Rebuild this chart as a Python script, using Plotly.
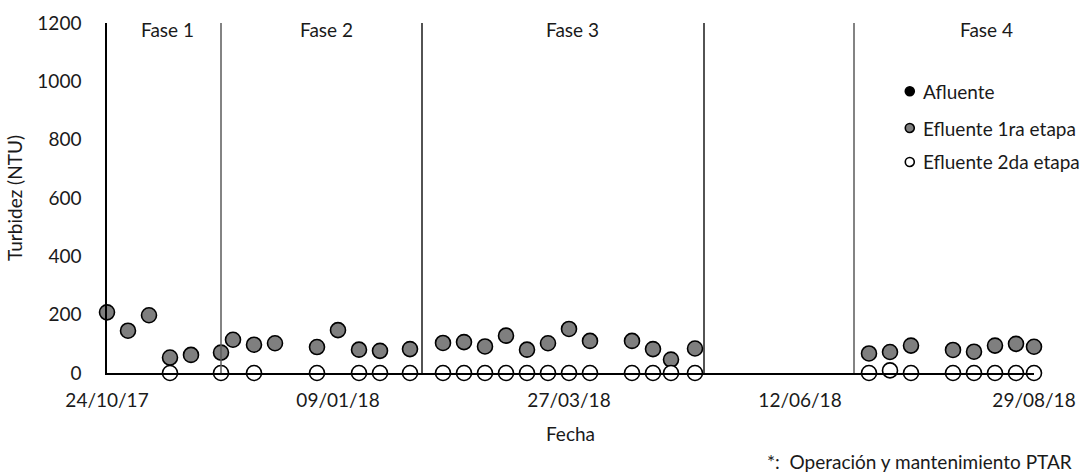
import plotly.graph_objects as go

# Sampling dates (dd/mm/yy campaign, Oct 2017 - Aug 2018)
fechas = [
    "2017-10-24", "2017-10-31", "2017-11-07", "2017-11-14", "2017-11-21",
    "2017-12-01", "2017-12-05", "2017-12-12", "2017-12-19", "2018-01-02",
    "2018-01-09", "2018-01-16", "2018-01-23", "2018-02-02", "2018-02-13",
    "2018-02-20", "2018-02-27", "2018-03-06", "2018-03-13", "2018-03-20",
    "2018-03-27", "2018-04-03", "2018-04-17", "2018-04-24", "2018-04-30",
    "2018-05-08", "2018-07-05", "2018-07-12", "2018-07-19", "2018-08-02",
    "2018-08-09", "2018-08-16", "2018-08-23", "2018-08-29",
]

# Turbidity (NTU)
afluente = []
efluente_1ra = [
    208, 145, 198, 53, 62,
    70, 114, 97, 102, 89,
    147, 80, 76, 82, 103,
    106, 91, 128, 80, 102,
    151, 110, 110, 82, 46,
    84, 67, 72, 94, 79,
    73, 94, 100, 90,
]
efluente_2da = [
    None, None, None, 0, None,
    0, None, 0, None, 0,
    None, 0, 0, 0, 0,
    0, 0, 0, 0, 0,
    0, 0, 0, 0, 0,
    0, 0, 9, 0, 0,
    0, 0, 0, 0,
]

# Phase boundaries and labels
limites_fase = ["2017-12-01", "2018-02-06", "2018-05-11", "2018-06-30"]
color_limite = ["#5a5a5a", "#1a1a1a", "#1a1a1a", "#5a5a5a"]
fases = ["Fase 1", "Fase 2", "Fase 3", "Fase 4"]
centro_fase = ["2017-11-13", "2018-01-05", "2018-03-28", "2018-08-13"]

tick_fechas = ["2017-10-24", "2018-01-09", "2018-03-27", "2018-06-12", "2018-08-29"]
tick_textos = ["24/10/17", "09/01/18", "27/03/18", "12/06/18", "29/08/18"]

series = ["Afluente", "Efluente 1ra etapa", "Efluente 2da etapa"]
relleno = ["#000000", "#7f7f7f", "#ffffff"]

FONT = "Lato, Calibri, sans-serif"
FS = 19
TXT = "#1a1a1a"

fig = go.Figure()

for nombre, valores, color in zip(series, [afluente, efluente_1ra, efluente_2da], relleno):
    fig.add_trace(go.Scatter(
        x=fechas[:len(valores)], y=valores, mode="markers", name=nombre,
        showlegend=False,
        marker=dict(size=15, color=color, line=dict(color="#000000", width=1.6)),
        cliponaxis=False,
    ))

# Vertical phase boundaries
for fecha, col in zip(limites_fase, color_limite):
    fig.add_shape(type="line", xref="x", yref="y", x0=fecha, x1=fecha, y0=0, y1=1200,
                  line=dict(color=col, width=1.5), layer="above")

for texto, fecha in zip(fases, centro_fase):
    fig.add_annotation(text=texto, x=fecha, xref="x", y=0.981, yref="paper",
                       showarrow=False, font=dict(family=FONT, size=FS, color=TXT),
                       xanchor="center", yanchor="middle")

# Legend block (symbol + label per series)
ley_x = 0.866
ley_y = [0.805, 0.700, 0.603]
for nombre, color, yy in zip(series, relleno, ley_y):
    fig.add_shape(type="circle", xref="paper", yref="paper",
                  xsizemode="pixel", ysizemode="pixel",
                  xanchor=ley_x, yanchor=yy, x0=-4.5, x1=4.5, y0=-4.5, y1=4.5,
                  fillcolor=color, line=dict(color="#000000", width=1.6))
    fig.add_annotation(text=nombre, x=ley_x, xref="paper", xshift=11, y=yy, yref="paper",
                       showarrow=False, xanchor="left", yanchor="middle",
                       font=dict(family=FONT, size=FS, color=TXT))

fig.add_annotation(text="*:  Operación y mantenimiento PTAR", x=0.710, xref="paper",
                   y=-0.253, yref="paper", showarrow=False, xanchor="left",
                   yanchor="middle", font=dict(family=FONT, size=FS, color=TXT))

fig.update_layout(
    width=1085, height=475,
    margin=dict(l=107, r=51, t=23, b=102),
    paper_bgcolor="white", plot_bgcolor="white",
    font=dict(family=FONT, size=FS, color=TXT),
    showlegend=False,
    xaxis=dict(
        type="date", range=["2017-10-24", "2018-08-29"],
        tickvals=tick_fechas, ticktext=tick_textos,
        showgrid=False, zeroline=False, showline=True, automargin=False,
        linecolor="#000000", linewidth=1.5, ticks="",
        ticklabelstandoff=9,
        title=dict(text="Fecha", standoff=18, font=dict(family=FONT, size=FS, color=TXT)),
    ),
    yaxis=dict(
        range=[0, 1200], dtick=200, tick0=0,
        showgrid=False, zeroline=False, showline=True, automargin=False,
        linecolor="#000000", linewidth=1.5, ticks="",
        ticklabelstandoff=20,
        title=dict(text="Turbidez (NTU)", standoff=10, font=dict(family=FONT, size=FS, color=TXT)),
    ),
)

fig.write_html("out.html")
